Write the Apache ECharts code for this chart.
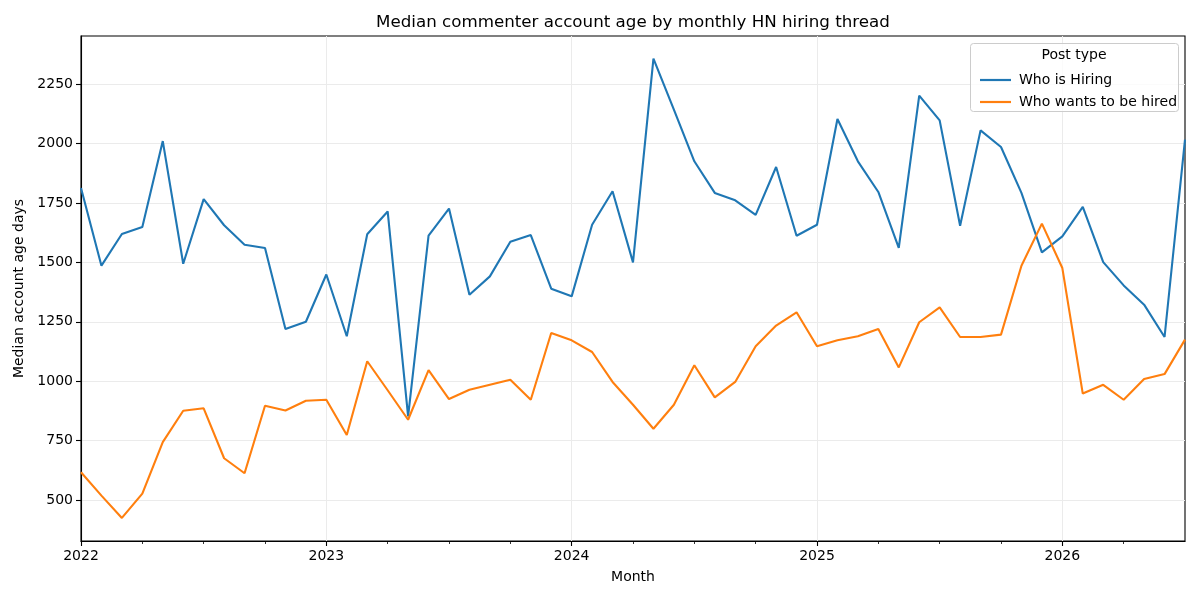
<!DOCTYPE html>
<html><head><meta charset="utf-8">
<script src="https://cdn.jsdelivr.net/npm/echarts@6/dist/echarts.min.js"></script>
<style>html,body{margin:0;padding:0;background:#fff}#c{width:1200px;height:600px}</style>
</head><body><div id="c"></div>
<script>
// ---- data ----
const months = [
  '2022-01','2022-02','2022-03','2022-04','2022-05','2022-06','2022-07','2022-08','2022-09','2022-10','2022-11','2022-12',
  '2023-01','2023-02','2023-03','2023-04','2023-05','2023-06','2023-07','2023-08','2023-09','2023-10','2023-11','2023-12',
  '2024-01','2024-02','2024-03','2024-04','2024-05','2024-06','2024-07','2024-08','2024-09','2024-10','2024-11','2024-12',
  '2025-01','2025-02','2025-03','2025-04','2025-05','2025-06','2025-07','2025-08','2025-09','2025-10','2025-11','2025-12',
  '2026-01','2026-02','2026-03','2026-04','2026-05','2026-06','2026-07'
];
const yearTickLabels = ['2022','2023','2024','2025','2026'];
const yearTickIndex = [0, 12, 24, 36, 48];
const yTickValues = [500, 750, 1000, 1250, 1500, 1750, 2000, 2250];
const whoIsHiring = [
  1813,1486,1619,1649,2010,1494,1766,1656,1574,1560,1220,1250,
  1449,1189,1618,1714,852,1612,1726,1364,1441,1587,1615,1389,
  1357,1658,1799,1500,2357,2142,1925,1792,1761,1700,1901,1612,
  1658,2103,1925,1796,1561,2201,2097,1654,2055,1985,1792,1542,
  1609,1733,1501,1403,1322,1186,2016
];
const whoWantsToBeHired = [
  617,519,425,527,744,876,886,676,613,897,877,918,
  922,774,1084,962,838,1047,925,964,985,1006,922,1203,
  1172,1123,997,901,800,901,1067,932,997,1147,1234,1290,
  1147,1172,1189,1220,1058,1248,1311,1186,1186,1196,1486,1663,
  1476,948,985,922,1009,1030,1175
];
const seriesNames = ['Who is Hiring', 'Who wants to be hired'];
const seriesColors = ['#1f77b4', '#ff7f0e'];

// ---- chart ----
const FONT = 'DejaVu Sans';
const chart = echarts.init(document.getElementById('c'), null, {renderer: 'canvas'});
const toPairs = arr => arr.map((v, i) => [i, v]);

chart.setOption({
  animation: false,
  backgroundColor: '#fff',
  textStyle: {fontFamily: FONT},
  grid: {left: 81, right: 15, top: 36, bottom: 59, show: true, borderColor: '#000', borderWidth: 1.1, containLabel: false},
  xAxis: {
    type: 'value', min: 0, max: months.length - 1, interval: 12,
    name: 'Month', nameLocation: 'middle', nameGap: 29,
    nameTextStyle: {fontFamily: FONT, fontSize: 14, color: '#000'},
    axisLine: {show: true, onZero: false, lineStyle: {color: '#000', width: 1.1}},
    axisTick: {show: true, length: 5, customValues: yearTickIndex, lineStyle: {color: '#000', width: 1.1}},
    minorTick: {show: true, splitNumber: 4, length: 3, lineStyle: {color: '#000', width: 0.8}},
    splitLine: {show: true, customValues: yearTickIndex, lineStyle: {color: '#ebebeb', width: 1}},
    axisLabel: {
      fontFamily: FONT, fontSize: 14, color: '#000', margin: 8, customValues: yearTickIndex,
      formatter: v => yearTickLabels[yearTickIndex.indexOf(v)]
    }
  },
  yAxis: {
    type: 'value', min: 328, max: 2452,
    name: 'Median account age days', nameLocation: 'middle', nameGap: 44,
    nameTextStyle: {fontFamily: FONT, fontSize: 14, color: '#000'},
    axisLine: {show: true, onZero: false, lineStyle: {color: '#000', width: 1.1}},
    axisTick: {show: true, length: 5, customValues: yTickValues, lineStyle: {color: '#000', width: 1.1}},
    splitLine: {show: true, customValues: yTickValues, lineStyle: {color: '#ebebeb', width: 1}},
    axisLabel: {
      fontFamily: FONT, fontSize: 14, color: '#000', margin: 8, customValues: yTickValues,
      formatter: v => String(v)
    }
  },
  legend: {
    data: seriesNames, orient: 'vertical', left: 975, top: 68, z: 60,
    icon: 'rect', itemWidth: 31, itemHeight: 2.2, itemGap: 8,
    textStyle: {fontFamily: FONT, fontSize: 14, color: '#000', padding: [0, 0, 0, 3]}
  },
  graphic: [
    {type: 'text', x: 633, y: 23, style: {text: 'Median commenter account age by monthly HN hiring thread', font: '16.7px "DejaVu Sans"', fill: '#000', align: 'center', verticalAlign: 'middle'}},
    {type: 'rect', shape: {x: 970.5, y: 43.5, width: 208, height: 68, r: 3}, style: {fill: 'rgba(255,255,255,0.8)', stroke: '#cccccc', lineWidth: 1}, z: 50},
    {type: 'text', x: 1074, y: 55, style: {text: 'Post type', font: '14px "DejaVu Sans"', fill: '#000', align: 'center', verticalAlign: 'middle'}, z: 51}
  ],
  series: [
    {name: seriesNames[0], type: 'line', data: toPairs(whoIsHiring), showSymbol: false, symbol: 'none', color: seriesColors[0], lineStyle: {width: 2.1, color: seriesColors[0]}, z: 3},
    {name: seriesNames[1], type: 'line', data: toPairs(whoWantsToBeHired), showSymbol: false, symbol: 'none', color: seriesColors[1], lineStyle: {width: 2.1, color: seriesColors[1]}, z: 4}
  ]
});
</script></body></html>
